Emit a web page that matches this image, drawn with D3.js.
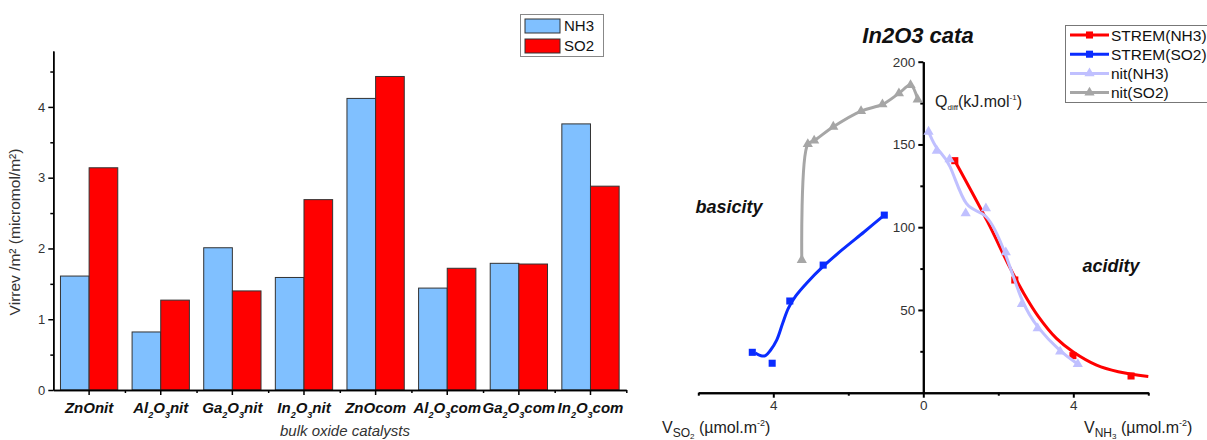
<!DOCTYPE html>
<html>
<head>
<meta charset="utf-8">
<script src="https://cdn.jsdelivr.net/npm/d3@7"></script>
<style>
body{margin:0;background:#fff;}
svg{font-family:"Liberation Sans",Arial,sans-serif;}
</style>
</head>
<body>
<script>
// ---- left chart data (bars)
var catalysts = ["ZnOnit","Al2O3nit","Ga2O3nit","In2O3nit","ZnOcom","Al2O3com","Ga2O3com","In2O3com"];
// label pieces: [text, subscript?]
var catLabels = [
  [["ZnOnit",0]],
  [["Al",0],["2",1],["O",0],["3",1],["nit",0]],
  [["Ga",0],["2",1],["O",0],["3",1],["nit",0]],
  [["In",0],["2",1],["O",0],["3",1],["nit",0]],
  [["ZnOcom",0]],
  [["Al",0],["2",1],["O",0],["3",1],["com",0]],
  [["Ga",0],["2",1],["O",0],["3",1],["com",0]],
  [["In",0],["2",1],["O",0],["3",1],["com",0]]
];
var series = ["NH3","SO2"];
var nh3 = [1.61, 0.82, 2.01, 1.59, 4.12, 1.44, 1.79, 3.76];
var so2 = [3.14, 1.27, 1.40, 2.69, 4.43, 1.72, 1.78, 2.88];
var barColors = {NH3:"#80c0ff", SO2:"#ff0000"};
var yTicks = [0,1,2,3,4];
var yMinor = [0.5,1.5,2.5,3.5,4.5];

// ---- right chart data (Qdiff vs coverage)
var stremNH3_V = [0.84, 2.44, 3.99, 5.54];
var stremNH3_Q = [140.2, 68.1, 22.4, 10.1];
var stremNH3FitV = [0.84, 1.71, 2.30, 2.68, 3.07, 3.55, 3.99, 4.62, 5.20, 6.0];
var stremNH3FitQ = [140.2, 103.5, 76, 60, 46, 32.8, 24.8, 16.7, 12.7, 9.8];
var stremSO2_V = [4.56, 4.03, 3.56, 2.67, 1.04];
var stremSO2_Q = [24.4, 17.8, 55.4, 77.1, 107.3];
var stremSO2FitV = [4.48, 4.33, 4.21, 4.08, 3.91, 3.75, 3.60, 3.40, 3.10, 2.67, 2.16, 1.58, 1.04];
var stremSO2FitQ = [24.0, 22.3, 22.4, 25.5, 31.8, 42, 51, 58.5, 66.5, 76.3, 86.4, 97.1, 107.3];
var nitNH3_V = [0.14, 0.36, 0.70, 1.13, 1.67, 2.20, 2.63, 3.05, 3.65, 4.12];
var nitNH3_Q = [157.7, 146.2, 141.0, 108.4, 111.4, 84.8, 53.6, 38.9, 24.8, 17.3];
var nitSO2_V = [3.24, 3.08, 2.91, 2.40, 1.66, 1.09, 0.65, 0.34, 0.15];
var nitSO2_Q = [80.2, 150.2, 152.3, 160.7, 170.2, 174.2, 180.9, 185.9, 177.2];
var legendNames = ["STREM(NH3)","STREM(SO2)","nit(NH3)","nit(SO2)"];
var lineColors = ["#ff0000","#0a2cff","#c0c0ff","#a6a6a6"];
var markers = ["square","square","triangle","triangle"];

var svg = d3.select("body").append("svg")
    .attr("width", 1207)
    .attr("height", 440);

// ================= left: grouped bars
var x0 = d3.scaleBand().domain(catalysts).range([53.3, 626.3])
    .paddingInner(0.2).paddingOuter(0.1);
var x1 = d3.scaleBand().domain(series).range([0, x0.bandwidth()]);
var y = d3.scaleLinear().domain([0, 4.79]).range([390, 51]);
var xEdge = d3.scaleLinear().domain([0, 8]).range([53.3, 626.3]);

var rows = catalysts.map(function(c, i){ return {cat:c, NH3:nh3[i], SO2:so2[i]}; });

var groups = svg.append("g").selectAll("g")
    .data(rows).enter().append("g")
    .attr("transform", function(d){ return "translate(" + x0(d.cat) + ",0)"; });
groups.selectAll("rect")
    .data(function(d){ return series.map(function(s){ return {s:s, v:d[s]}; }); })
    .enter().append("rect")
    .attr("x", function(d){ return x1(d.s); })
    .attr("y", function(d){ return y(d.v); })
    .attr("width", x1.bandwidth())
    .attr("height", function(d){ return y(0) - y(d.v); })
    .attr("fill", function(d){ return barColors[d.s]; })
    .attr("stroke", "#333")
    .attr("stroke-width", 1);

function leftAxisStyle(g){
  g.selectAll("path,line").attr("stroke", "#000").attr("stroke-width", 1.5);
  g.selectAll("text").style("font-size", "13px").attr("fill", "#333");
}
var la;
la = svg.append("g").attr("transform", "translate(53.3,0)")
    .call(d3.axisLeft(y).tickValues(yTicks).tickFormat(d3.format("d")).tickSize(5).tickSizeOuter(0));
leftAxisStyle(la);
la = svg.append("g").attr("transform", "translate(53.3,0)")
    .call(d3.axisLeft(y).tickValues(yMinor).tickFormat("").tickSize(3).tickSizeOuter(0));
leftAxisStyle(la);
la = svg.append("g").attr("transform", "translate(0,390)")
    .call(d3.axisBottom(x0).tickFormat("").tickSize(5).tickSizeOuter(0));
leftAxisStyle(la);
la = svg.append("g").attr("transform", "translate(0,390)")
    .call(d3.axisBottom(xEdge).tickValues([1,2,3,4,5,6,7,8]).tickFormat("").tickSize(3).tickSizeOuter(0));
leftAxisStyle(la);

// category labels with subscripts
var lab = svg.append("g").selectAll("text")
    .data(catLabels).enter().append("text")
    .attr("x", function(d, i){ return x0(catalysts[i]) + x0.bandwidth()/2; })
    .attr("y", 413)
    .attr("text-anchor", "middle")
    .style("font-size", "15px")
    .style("font-weight", "bold")
    .style("font-style", "italic")
    .attr("fill", "#111");
lab.each(function(parts){
  var t = d3.select(this), prevSub = 0;
  parts.forEach(function(p){
    var dy = p[1] ? 5 : (prevSub ? -5 : 0);
    t.append("tspan").text(p[0])
      .attr("dy", dy)
      .style("font-size", p[1] ? "9px" : "15px");
    prevSub = p[1];
  });
});

svg.append("text")
    .attr("transform", "translate(20,232) rotate(-90)")
    .attr("text-anchor", "middle")
    .style("font-size", "15.5px")
    .attr("fill", "#333")
    .text("Virrev /m\u00b2 (micromol/m\u00b2)");
svg.append("text")
    .attr("x", 345).attr("y", 436)
    .attr("text-anchor", "middle")
    .style("font-size", "15px")
    .style("font-style", "italic")
    .attr("fill", "#333")
    .text("bulk oxide catalysts");

// legend
var lg = svg.append("g");
lg.append("rect").attr("x", 520.5).attr("y", 14.5).attr("width", 83).attr("height", 42)
    .attr("fill", "#fff").attr("stroke", "#888");
series.forEach(function(s, i){
  lg.append("rect").attr("x", 525).attr("y", 19 + i*20).attr("width", 35).attr("height", 14)
    .attr("fill", barColors[s]).attr("stroke", "#333");
  lg.append("text").attr("x", 564).attr("y", 31 + i*20)
    .style("font-size", "15px").attr("fill", "#111").text(s);
});

// ================= right: Qdiff chart
var xL = d3.scaleLinear().domain([0, 6]).range([923.3, 698.3]);
var xR = d3.scaleLinear().domain([0, 6]).range([923.3, 1148.3]);
var yQ = d3.scaleLinear().domain([0, 200]).range([392.7, 61.7]);

function axisStyle(g, w){
  g.selectAll("path,line").attr("stroke", "#000").attr("stroke-width", w);
  g.selectAll("text").style("font-size", "13.5px").attr("fill", "#333");
}
var ax;
ax = svg.append("g").attr("transform", "translate(0,392.7)")
    .call(d3.axisBottom(xL).tickValues([0,4]).tickFormat(d3.format("d")).tickSize(5).tickSizeOuter(0));
axisStyle(ax, 2);
ax = svg.append("g").attr("transform", "translate(0,392.7)")
    .call(d3.axisBottom(xL).tickValues([2,6]).tickFormat("").tickSize(3).tickSizeOuter(0));
axisStyle(ax, 2);
ax = svg.append("g").attr("transform", "translate(0,392.7)")
    .call(d3.axisBottom(xR).tickValues([4]).tickFormat(d3.format("d")).tickSize(5).tickSizeOuter(0));
axisStyle(ax, 2);
ax = svg.append("g").attr("transform", "translate(0,392.7)")
    .call(d3.axisBottom(xR).tickValues([2,6]).tickFormat("").tickSize(3).tickSizeOuter(0));
axisStyle(ax, 2);
ax = svg.append("g").attr("transform", "translate(923.3,0)")
    .call(d3.axisLeft(yQ).tickValues([50,100,150,200]).tickSize(5).tickSizeOuter(0));
axisStyle(ax, 2);
ax = svg.append("g").attr("transform", "translate(923.3,0)")
    .call(d3.axisLeft(yQ).tickValues([25,75,125,175]).tickFormat("").tickSize(3).tickSizeOuter(0));
axisStyle(ax, 2);

function pts(vs, qs){ return vs.map(function(v, i){ return [v, qs[i]]; }); }
var lineSets = [
  {xs:xR, fit:pts(stremNH3FitV, stremNH3FitQ), pts:pts(stremNH3_V, stremNH3_Q), curve:d3.curveCatmullRom.alpha(0.5)},
  {xs:xL, fit:pts(stremSO2FitV, stremSO2FitQ), pts:pts(stremSO2_V, stremSO2_Q), curve:d3.curveCatmullRom.alpha(0.5)},
  {xs:xR, fit:pts(nitNH3_V, nitNH3_Q), pts:pts(nitNH3_V, nitNH3_Q), curve:d3.curveBasis},
  {xs:xL, fit:pts(nitSO2_V, nitSO2_Q), pts:pts(nitSO2_V, nitSO2_Q), curve:d3.curveCatmullRom.alpha(0.5)}
];
var symSq = d3.symbol().type(d3.symbolSquare).size(50);
var symTri = d3.symbol().type(d3.symbolTriangle).size(45);

lineSets.forEach(function(set, k){
  var line = d3.line()
      .x(function(d){ return set.xs(d[0]); })
      .y(function(d){ return yQ(d[1]); })
      .curve(set.curve);
  svg.append("path").datum(set.fit)
      .attr("d", line)
      .attr("fill", "none")
      .attr("stroke", lineColors[k])
      .attr("stroke-width", 3);
  svg.append("g").selectAll("path")
      .data(set.pts).enter().append("path")
      .attr("transform", function(d){ return "translate(" + set.xs(d[0]) + "," + yQ(d[1]) + ")"; })
      .attr("d", markers[k] === "square" ? symSq : symTri)
      .attr("fill", lineColors[k]);
});

// right legend
var lg2 = svg.append("g");
lg2.append("rect").attr("x", 1065.5).attr("y", 25.5).attr("width", 160).attr("height", 77)
    .attr("fill", "#fff").attr("stroke", "#777");
legendNames.forEach(function(n, i){
  var yy = 35 + i*19.2;
  lg2.append("line").attr("x1", 1070).attr("x2", 1109).attr("y1", yy).attr("y2", yy)
    .attr("stroke", lineColors[i]).attr("stroke-width", 3);
  lg2.append("path").attr("transform", "translate(1089.5," + yy + ")")
    .attr("d", markers[i] === "square" ? symSq : symTri)
    .attr("fill", lineColors[i]);
  lg2.append("text").attr("x", 1111).attr("y", yy + 5.5)
    .style("font-size", "15.5px").attr("fill", "#111").text(n);
});

// titles and annotations
svg.append("text").attr("x", 918).attr("y", 43).attr("text-anchor", "middle")
    .style("font-size", "22px").style("font-weight", "bold").style("font-style", "italic")
    .attr("fill", "#111").text("In2O3 cata");
svg.append("text").attr("x", 729).attr("y", 213).attr("text-anchor", "middle")
    .style("font-size", "18px").style("font-weight", "bold").style("font-style", "italic")
    .attr("fill", "#111").text("basicity");
svg.append("text").attr("x", 1111).attr("y", 272).attr("text-anchor", "middle")
    .style("font-size", "18px").style("font-weight", "bold").style("font-style", "italic")
    .attr("fill", "#111").text("acidity");

function richText(xp, yp, parts){
  var t = svg.append("text").attr("x", xp).attr("y", yp).attr("fill", "#222");
  parts.forEach(function(p){
    t.append("tspan").text(p[0]).attr("dy", p[1]).style("font-size", p[2] + "px");
  });
}
richText(935, 107, [["Q",0,16],["diff",3,8],["(kJ.mol",-3,16],["-1",-7,8],[")",7,16]]);
richText(662, 433, [["V",0,16],["SO",4,12],["2",2,8],[" (\u00b5mol.m",-6,16],["-2",-7,9],[")",7,16]]);
richText(1084, 433, [["V",0,16],["NH",4,12],["3",2,8],[" (\u00b5mol.m",-6,16],["-2",-7,9],[")",7,16]]);
</script>
</body>
</html>
